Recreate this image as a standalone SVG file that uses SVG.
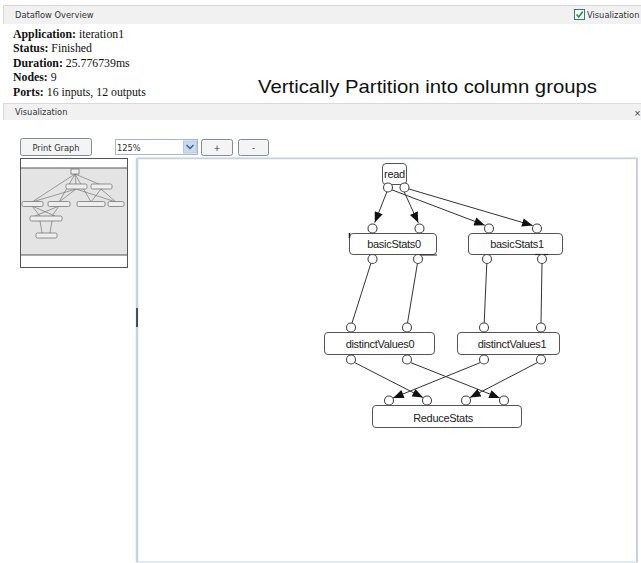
<svg xmlns="http://www.w3.org/2000/svg" width="641" height="563" viewBox="0 0 641 563">
  <defs>
    <marker id="arrow" viewBox="0 0 10 8" refX="10" refY="4" markerWidth="11" markerHeight="8.5" markerUnits="userSpaceOnUse" orient="auto">
      <path d="M0,0 L10,4 L0,8 z" fill="#111"/>
    </marker>
  </defs>
  <style>
    .ui { font-family: "DejaVu Sans", "Liberation Sans", sans-serif; font-size: 8.3px; fill: #333; }
    .info { font-family: "Liberation Serif", serif; font-size: 11.8px; fill: #111; }
    .bar { fill: #f1f1f1; }
    .barline { stroke: #d9d9d9; stroke-width: 1; }
    .btn { fill: #f4f4f4; stroke: #7f8c99; stroke-width: 1; }
    .node rect.box { fill: #fff; stroke: #555; stroke-width: 1; }
    .node text { font-family: "Liberation Sans", Arial, sans-serif; font-size: 11px; fill: #222; text-anchor: middle; letter-spacing: -0.3px; }
    .port { fill: #fff; stroke: #444; stroke-width: 1.1; }
    .edge { stroke: #333; stroke-width: 1; fill: none; }
    .arr { marker-end: url(#arrow); }
    .mini { stroke: #777; stroke-width: 0.7; fill: none; }
    .mininode { fill: #eee; stroke: #777; stroke-width: 0.8; }
  </style>

  <rect width="641" height="563" fill="#fff"/>

  <!-- Overview header bar -->
  <g id="overview-bar">
    <rect class="bar" x="3" y="5" width="638" height="19"/>
    <line class="barline" x1="3" y1="5.5" x2="641" y2="5.5"/>
    <line class="barline" x1="3.5" y1="5" x2="3.5" y2="24"/>
    <text class="ui" x="15" y="17.5">Dataflow Overview</text>
    <rect x="574.5" y="9.5" width="10" height="10" fill="#fff" stroke="#3c6ea8" stroke-width="1"/>
    <path d="M576.5,14.5 L578.8,17 L582.8,11.5" fill="none" stroke="#1e9a2e" stroke-width="1.6"/>
    <text class="ui" x="587" y="17.5" font-size="7.6">Visualization</text>
  </g>

  <!-- Run information -->
  <g id="info">
    <text class="info" x="13" y="38"><tspan font-weight="bold">Application:</tspan> iteration1</text>
    <text class="info" x="13" y="52"><tspan font-weight="bold">Status:</tspan> Finished</text>
    <text class="info" x="13" y="66.5"><tspan font-weight="bold">Duration:</tspan> 25.776739ms</text>
    <text class="info" x="13" y="81"><tspan font-weight="bold">Nodes:</tspan> 9</text>
    <text class="info" x="13" y="95.5"><tspan font-weight="bold">Ports:</tspan> 16 inputs, 12 outputs</text>
  </g>

  <text id="title" x="258" y="93" font-family="'Liberation Sans', Arial, sans-serif" font-size="18.5" fill="#111" textLength="339" lengthAdjust="spacingAndGlyphs">Vertically Partition into column groups</text>

  <!-- Visualization header bar -->
  <g id="vis-bar">
    <rect class="bar" x="3" y="103" width="638" height="17"/>
    <line class="barline" x1="3" y1="103.5" x2="641" y2="103.5"/>
    <line class="barline" x1="3.5" y1="103" x2="3.5" y2="120"/>
    <text class="ui" x="15" y="115">Visualization</text>
    <text class="ui" x="634" y="116" font-size="8">×</text>
  </g>

  <!-- Toolbar -->
  <g id="toolbar">
    <rect class="btn" x="20.5" y="138.5" width="71" height="17" rx="2"/>
    <text class="ui" x="56" y="150.5" text-anchor="middle" font-size="8.8">Print Graph</text>
    <rect x="115.5" y="139.5" width="82" height="15" fill="#fff" stroke="#a7b7c7"/>
    <text class="ui" x="117" y="150.5" font-size="8.5">125%</text>
    <rect x="183.5" y="141" width="13" height="12" fill="#c9daf0" stroke="#b4c7e0"/>
    <path d="M186.5,145 L190,148.5 L193.5,145" fill="none" stroke="#3a5f8f" stroke-width="1.5"/>
    <rect class="btn" x="201.5" y="139.5" width="31" height="16" rx="2" stroke="#3f6aa0" stroke-width="1.5"/>
    <text class="ui" x="217" y="151" text-anchor="middle" font-size="9.5">+</text>
    <rect class="btn" x="238.5" y="139.5" width="30" height="16" rx="2"/>
    <text class="ui" x="253.5" y="150.5" text-anchor="middle" font-size="9.5">-</text>
  </g>

  <!-- Overview thumbnail -->
  <g id="thumbnail">
    <rect x="20.5" y="158.5" width="107" height="109" fill="#fff" stroke="#555"/>
    <rect x="20.5" y="168" width="107" height="87" fill="#e4e4e4" stroke="#555"/>
    <g class="mini">
      <path d="M75,174 L76,185 M75,174 L101,185 M75,174 L32,202 M75,174 L59,202 M75,174 L91,202"/>
      <path d="M76,189 L32,202 M76,189 L59,202 M101,189 L91,202 M101,189 L116,202 M76,189 L116,202"/>
      <path d="M32,206 L40,216 M59,206 L52,216 M32,206 L55,216 M59,206 L35,216"/>
      <path d="M40,221 L42,233 M52,221 L50,233"/>
    </g>
    <rect class="mininode" x="71" y="169" width="8" height="5"/>
    <rect class="mininode" x="66" y="184" width="21" height="5" rx="1.5"/>
    <rect class="mininode" x="91" y="184" width="21" height="5" rx="1.5"/>
    <rect class="mininode" x="22" y="201.5" width="21" height="5" rx="1.5"/>
    <rect class="mininode" x="48" y="201.5" width="22" height="5" rx="1.5"/>
    <rect class="mininode" x="77" y="201.5" width="28" height="5" rx="1.5"/>
    <rect class="mininode" x="108" y="201.5" width="16" height="5" rx="1.5"/>
    <rect class="mininode" x="30" y="216" width="32" height="5" rx="1.5"/>
    <rect class="mininode" x="36" y="233" width="21" height="5" rx="1.5"/>
  </g>

  <!-- Graph canvas -->
  <g id="canvas">
    <rect x="137" y="158" width="500" height="404" fill="#fff" stroke="#c9d6e3" stroke-width="1"/>
    <line x1="137" y1="158" x2="137" y2="562" stroke="#c3d3e3" stroke-width="2.5"/>
    <line x1="137" y1="158.5" x2="637" y2="158.5" stroke="#c3d3e3" stroke-width="1.5"/>
    <line x1="637" y1="158" x2="637" y2="562" stroke="#c3d3e3" stroke-width="2"/>
    <line x1="137" y1="308" x2="137" y2="327" stroke="#4a4f55" stroke-width="2"/>
  </g>

  <!-- Connectors -->
  <g id="connectors">
    <line class="edge arr" x1="387" y1="191.5" x2="374.8" y2="222.6"/>
    <line class="edge arr" x1="404" y1="191.5" x2="418.3" y2="222.8"/>
    <line class="edge arr" x1="391" y1="189.5" x2="484.8" y2="225.2"/>
    <line class="edge arr" x1="409" y1="189" x2="532.7" y2="225.5"/>

    <line class="edge" x1="371" y1="263" x2="352" y2="323"/>
    <line class="edge" x1="417.5" y1="263" x2="407.5" y2="323"/>
    <line class="edge" x1="486.8" y1="263" x2="484.2" y2="323"/>
    <line class="edge" x1="542" y1="263" x2="541" y2="323"/>

    <line class="edge arr" x1="354.5" y1="362.5" x2="423" y2="397.6"/>
    <line class="edge arr" x1="410.5" y1="362.5" x2="499.8" y2="398"/>
    <line class="edge arr" x1="480.5" y1="362.5" x2="393.1" y2="398"/>
    <line class="edge arr" x1="537.5" y1="362.5" x2="470" y2="397.6"/>
  </g>

  <!-- Nodes -->
  <g id="node-read" class="node">
    <rect class="box" x="382.5" y="163.5" width="24" height="21" rx="3.5"/>
    <text x="394.5" y="177.5">read</text>
    <circle class="port" cx="388" cy="187.5" r="4.5"/>
    <circle class="port" cx="404.5" cy="187.5" r="4.5"/>
  </g>

  <g id="node-basicStats0" class="node">
    <rect class="box" x="349.5" y="233.5" width="87" height="21" rx="3.5"/>
    <line x1="349.5" y1="233" x2="349.5" y2="238" stroke="#222" stroke-width="1.5"/>
    <line x1="419" y1="255" x2="437" y2="255" stroke="#222" stroke-width="1"/>
    <text x="394" y="248">basicStats0</text>
    <circle class="port" cx="372.5" cy="228.5" r="4.5"/>
    <circle class="port" cx="419.5" cy="228.5" r="4.5"/>
    <circle class="port" cx="372.5" cy="259" r="4.5"/>
    <circle class="port" cx="418" cy="259" r="4.5"/>
  </g>

  <g id="node-basicStats1" class="node">
    <rect class="box" x="468.5" y="233.5" width="94" height="21" rx="3.5"/>
    <line x1="535" y1="254.5" x2="548" y2="254.5" stroke="#222" stroke-width="1.2"/>
    <text x="517" y="248">basicStats1</text>
    <circle class="port" cx="489" cy="228.5" r="4.5"/>
    <circle class="port" cx="537" cy="228.5" r="4.5"/>
    <circle class="port" cx="487" cy="259" r="4.5"/>
    <circle class="port" cx="542" cy="259" r="4.5"/>
  </g>

  <g id="node-distinctValues0" class="node">
    <rect class="box" x="324.5" y="332.5" width="110" height="22" rx="3.5"/>
    <text x="380" y="348">distinctValues0</text>
    <circle class="port" cx="351" cy="327.5" r="4.5"/>
    <circle class="port" cx="407" cy="327.5" r="4.5"/>
    <circle class="port" cx="351" cy="359.5" r="4.5"/>
    <circle class="port" cx="407" cy="359.5" r="4.5"/>
  </g>

  <g id="node-distinctValues1" class="node">
    <rect class="box" x="457.5" y="332.5" width="102" height="22" rx="3.5"/>
    <text x="512" y="348">distinctValues1</text>
    <circle class="port" cx="484" cy="327.5" r="4.5"/>
    <circle class="port" cx="541" cy="327.5" r="4.5"/>
    <circle class="port" cx="484" cy="359.5" r="4.5"/>
    <circle class="port" cx="541" cy="359.5" r="4.5"/>
  </g>

  <g id="node-ReduceStats" class="node">
    <rect class="box" x="372.5" y="405.5" width="149" height="22" rx="3.5"/>
    <text x="443" y="422">ReduceStats</text>
    <circle class="port" cx="389" cy="400.5" r="4.5"/>
    <circle class="port" cx="427" cy="400.5" r="4.5"/>
    <circle class="port" cx="466" cy="400.5" r="4.5"/>
    <circle class="port" cx="504" cy="400.5" r="4.5"/>
  </g>
</svg>
